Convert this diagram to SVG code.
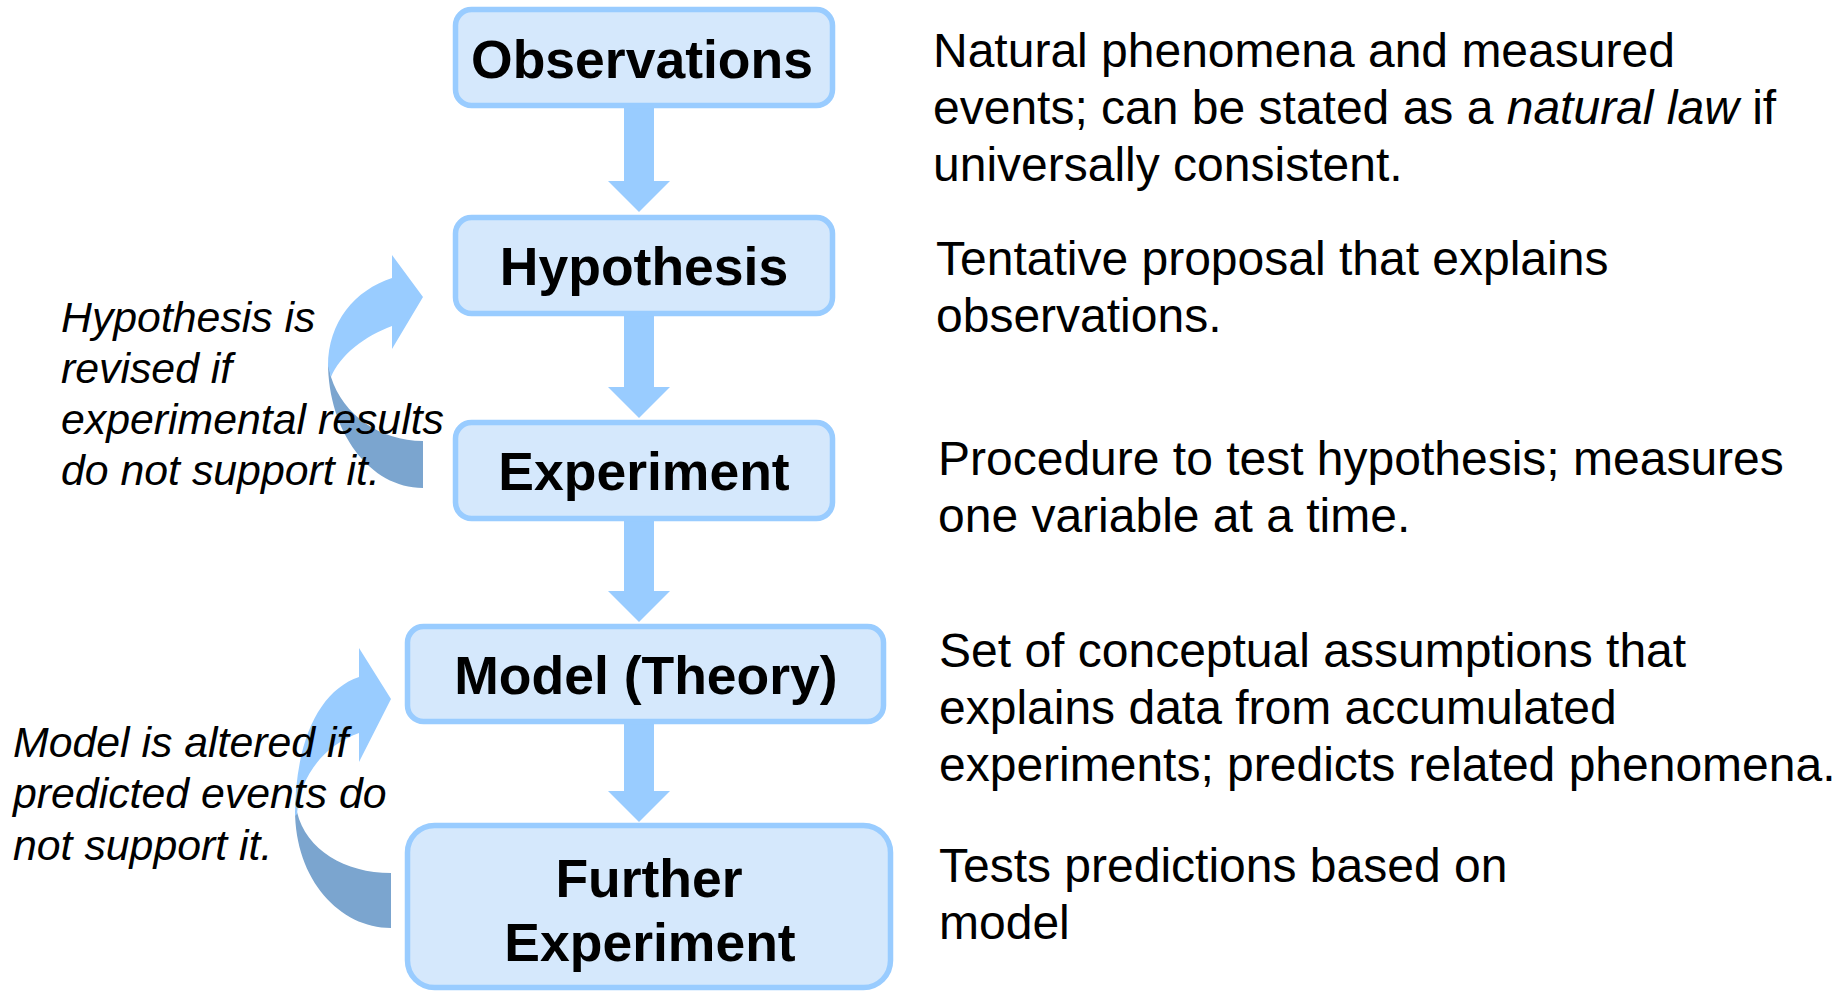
<svg xmlns="http://www.w3.org/2000/svg" width="1847" height="993" viewBox="0 0 1847 993">
<style>
.box{fill:#D5E8FC;stroke:#99CCFF;stroke-width:5.5}
.lbl{font-family:"Liberation Sans",Arial,sans-serif;font-weight:bold;font-size:53.5px;fill:#000;text-anchor:middle}
.desc{font-family:"Liberation Sans",Arial,sans-serif;font-size:48px;fill:#000}
.note{font-family:"Liberation Sans",Arial,sans-serif;font-style:italic;font-size:42.8px;fill:#000}
.arr{fill:#99CCFF}
.dark{fill:#7BA5CF}
</style>
<rect width="1847" height="993" fill="#FFFFFF"/>
<g id="connectors">
<path class="arr" d="M624,108 H654 V181 H670 L639,212 L608,181 H624 Z"/>
<path class="arr" d="M624,316 H654 V387 H670 L639,418 L608,387 H624 Z"/>
<path class="arr" d="M624,521 H654 V591 H670 L639,622 L608,591 H624 Z"/>
<path class="arr" d="M624,724 H654 V791 H670 L639,822 L608,791 H624 Z"/>
<g id="loop1">
<path class="dark" d="M328,362 C328,432 370,488 423,488 L423,441 C380,441 343,415 331,377 Z"/>
<path class="arr" d="M392,278 L392,255 L423,297 L392,349 L392,326 C365,336 340,355 331,377 L328,366 C328,322 355,290 392,278 Z"/>
</g>
<g id="loop2">
<path class="dark" d="M295,810 C295,880 340,928 391,928 L391,873 C345,873 306,850 297,812 Z"/>
<path class="arr" d="M359,677 L359,648 L391,699 L359,762 L359,733 C325,745 300,775 297,814 L295,816 C295,740 320,690 359,677 Z"/>
</g>
</g>
<g id="observations">
<rect class="box" x="455.5" y="9.5" width="377" height="96" rx="16"/>
<text class="lbl" x="642" y="78">Observations</text>
</g>
<g id="hypothesis">
<rect class="box" x="455.5" y="217.5" width="377" height="96" rx="16"/>
<text class="lbl" x="644" y="285">Hypothesis</text>
</g>
<g id="experiment">
<rect class="box" x="455.5" y="422.5" width="377" height="96" rx="16"/>
<text class="lbl" x="644" y="490">Experiment</text>
</g>
<g id="model">
<rect class="box" x="407.5" y="626.5" width="476" height="95" rx="16"/>
<text class="lbl" x="646" y="694">Model (Theory)</text>
</g>
<g id="further">
<rect class="box" x="407.5" y="825.5" width="483" height="162" rx="27"/>
<text class="lbl" x="649" y="897">Further</text>
<text class="lbl" x="650" y="961">Experiment</text>
</g>
<g id="notes">
<text class="note" x="61" y="332">Hypothesis is</text>
<text class="note" x="61" y="383">revised if</text>
<text class="note" x="61" y="434">experimental results</text>
<text class="note" x="61" y="485">do not support it.</text>
<text class="note" x="13" y="757">Model is altered if</text>
<text class="note" x="13" y="808">predicted events do</text>
<text class="note" x="13" y="860">not support it.</text>
</g>
<g id="descriptions">
<text class="desc" x="933" y="67">Natural phenomena and measured</text>
<text class="desc" x="933" y="124">events; can be stated as a <tspan font-style="italic">natural law</tspan> if</text>
<text class="desc" x="933" y="181">universally consistent.</text>
<text class="desc" x="936" y="275">Tentative proposal that explains</text>
<text class="desc" x="936" y="332">observations.</text>
<text class="desc" x="938" y="475">Procedure to test hypothesis; measures</text>
<text class="desc" x="938" y="532">one variable at a time.</text>
<text class="desc" x="939" y="667">Set of conceptual assumptions that</text>
<text class="desc" x="939" y="724">explains data from accumulated</text>
<text class="desc" x="939" y="781">experiments; predicts related phenomena.</text>
<text class="desc" x="939" y="882">Tests predictions based on</text>
<text class="desc" x="939" y="939">model</text>
</g>
</svg>
